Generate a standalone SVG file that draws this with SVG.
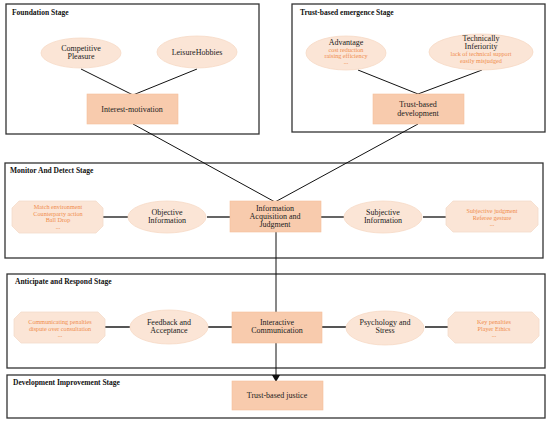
<svg xmlns="http://www.w3.org/2000/svg" width="550" height="422" viewBox="0 0 550 422">
<style>
text{font-family:"Liberation Serif","Times New Roman",serif;text-anchor:middle;fill:#222}
.stage{fill:#fff;stroke:#333;stroke-width:1.3}
.title{font-weight:bold;font-size:7.5px;text-anchor:start;fill:#111}
.ell{fill:#fbe5d6;stroke:#f6d9c5;stroke-width:0.8}
.rect{fill:#f8cbad;stroke:#f4c09c;stroke-width:0.6}
.oct{fill:#fbe5d6;stroke:#f4dccb;stroke-width:0.8}
.t{font-size:8px}
.o{font-size:6.2px;fill:#f08c4c}
.ln{stroke:#111;stroke-width:1;fill:none}
.hl{stroke:#333;stroke-width:1.6;fill:none}
.hl2{stroke:#555;stroke-width:2;fill:none}
</style>
<defs>
<marker id="arr" markerWidth="8" markerHeight="8" refX="6" refY="4" orient="auto" markerUnits="userSpaceOnUse">
<path d="M0,0 L7,4 L0,8 Z" fill="#111"/>
</marker>
</defs>
<g id="stages">
<rect class="stage" x="6" y="4" width="253" height="130"/>
<text class="title" x="12" y="15">Foundation Stage</text>
<rect class="stage" x="292" y="4" width="253" height="128"/>
<text class="title" x="300" y="15">Trust-based emergence Stage</text>
<rect class="stage" x="5" y="163" width="538" height="95"/>
<text class="title" x="10" y="173">Monitor And Detect Stage</text>
<rect class="stage" x="7" y="274" width="538" height="94"/>
<text class="title" x="15" y="284">Anticipate and Respond Stage</text>
<rect class="stage" x="7" y="375" width="538" height="43"/>
<text class="title" x="13" y="385">Development Improvement Stage</text>
</g>
<g id="connectors">
<path class="ln" d="M81,69 L133,95 M197,69 L133,95"/>
<path class="ln" d="M358,70 L418,94 M482,70 L418,94"/>
<path class="ln" d="M133,124 L275,202 M418,124 L275,202"/>
<path class="hl" d="M103,217 L128,217 M207,217 L230,217 M321,217 L344,217 M423,217 L446,217"/>
<path class="hl2" d="M105,327 L130,327 M208,327 L232,327 M322,327 L346,327 M425,327 L448,327"/>
<path class="ln" d="M276,232 L276,381" marker-end="url(#arr)"/>
</g>
<g id="competitive-pleasure">
<ellipse class="ell" cx="81" cy="53" rx="40" ry="15"/>
<text class="t" x="81" y="51">Competitive</text>
<text class="t" x="81" y="59">Pleasure</text>
</g>
<g id="leisure-hobbies">
<ellipse class="ell" cx="197" cy="52" rx="40" ry="16"/>
<text class="t" x="197" y="55">LeisureHobbies</text>
</g>
<g id="interest-motivation">
<rect class="rect" x="87" y="94" width="91" height="30"/>
<text class="t" x="132" y="112">Interest-motivation</text>
</g>
<g id="advantage">
<ellipse class="ell" cx="346" cy="53" rx="40" ry="17"/>
<text class="t" x="346" y="44.5">Advantage</text>
<text class="o" x="346" y="51.5">cost reduction</text>
<text class="o" x="346" y="57.5">raising efficiency</text>
<text class="o" x="346" y="64">...</text>
</g>
<g id="technically-inferiority">
<ellipse class="ell" cx="481" cy="52" rx="52" ry="18"/>
<text class="t" x="481" y="41">Technically</text>
<text class="t" x="481" y="49">Inferiority</text>
<text class="o" x="481" y="56">lack of technical support</text>
<text class="o" x="481" y="63">easily misjudged</text>
</g>
<g id="trust-based-development">
<rect class="rect" x="373" y="94" width="91" height="30"/>
<text class="t" x="418" y="107">Trust-based</text>
<text class="t" x="418" y="116">development</text>
</g>
<g id="monitor-left">
<path class="oct" d="M19,201 L96,201 L103,208 L103,226 L96,233 L19,233 L12,226 L12,208 Z"/>
<text class="o" x="58" y="209">Match environment</text>
<text class="o" x="58" y="215.5">Counterparty action</text>
<text class="o" x="58" y="222">Ball Drop</text>
<text class="o" x="58" y="228.5">...</text>
</g>
<g id="objective-information">
<ellipse class="ell" cx="167" cy="217" rx="39" ry="16"/>
<text class="t" x="167" y="215">Objective</text>
<text class="t" x="167" y="223">Information</text>
</g>
<g id="information-acquisition">
<rect class="rect" x="230" y="201" width="91" height="31"/>
<text class="t" x="275" y="211">Information</text>
<text class="t" x="275" y="219">Acquisition and</text>
<text class="t" x="275" y="227">Judgment</text>
</g>
<g id="subjective-information">
<ellipse class="ell" cx="383" cy="217" rx="39" ry="16"/>
<text class="t" x="383" y="215">Subjective</text>
<text class="t" x="383" y="223">Information</text>
</g>
<g id="monitor-right">
<path class="oct" d="M453,201 L531,201 L538,208 L538,225 L531,232 L453,232 L446,225 L446,208 Z"/>
<text class="o" x="492" y="213">Subjective judgment</text>
<text class="o" x="492" y="219.5">Referee gesture</text>
<text class="o" x="492" y="226">...</text>
</g>
<g id="anticipate-left">
<path class="oct" d="M21,312 L98,312 L105,319 L105,336 L98,343 L21,343 L14,336 L14,319 Z"/>
<text class="o" x="60" y="324">Communicating penalties</text>
<text class="o" x="60" y="330.5">dispute over consultation</text>
<text class="o" x="60" y="337">...</text>
</g>
<g id="feedback-acceptance">
<ellipse class="ell" cx="169" cy="327" rx="39" ry="17"/>
<text class="t" x="169" y="325">Feedback and</text>
<text class="t" x="169" y="333">Acceptance</text>
</g>
<g id="interactive-communication">
<rect class="rect" x="232" y="312" width="90" height="31"/>
<text class="t" x="277" y="325">Interactive</text>
<text class="t" x="277" y="333">Communication</text>
</g>
<g id="psychology-stress">
<ellipse class="ell" cx="385" cy="328" rx="39" ry="17"/>
<text class="t" x="385" y="325">Psychology and</text>
<text class="t" x="385" y="333">Stress</text>
</g>
<g id="anticipate-right">
<path class="oct" d="M455,312 L532,312 L539,319 L539,336 L532,343 L455,343 L448,336 L448,319 Z"/>
<text class="o" x="494" y="324">Key penalties</text>
<text class="o" x="494" y="330.5">Player Ethics</text>
<text class="o" x="494" y="337">...</text>
</g>
<g id="trust-based-justice">
<rect class="rect" x="232" y="381" width="91" height="29"/>
<text class="t" x="277" y="398">Trust-based justice</text>
</g>
</svg>
